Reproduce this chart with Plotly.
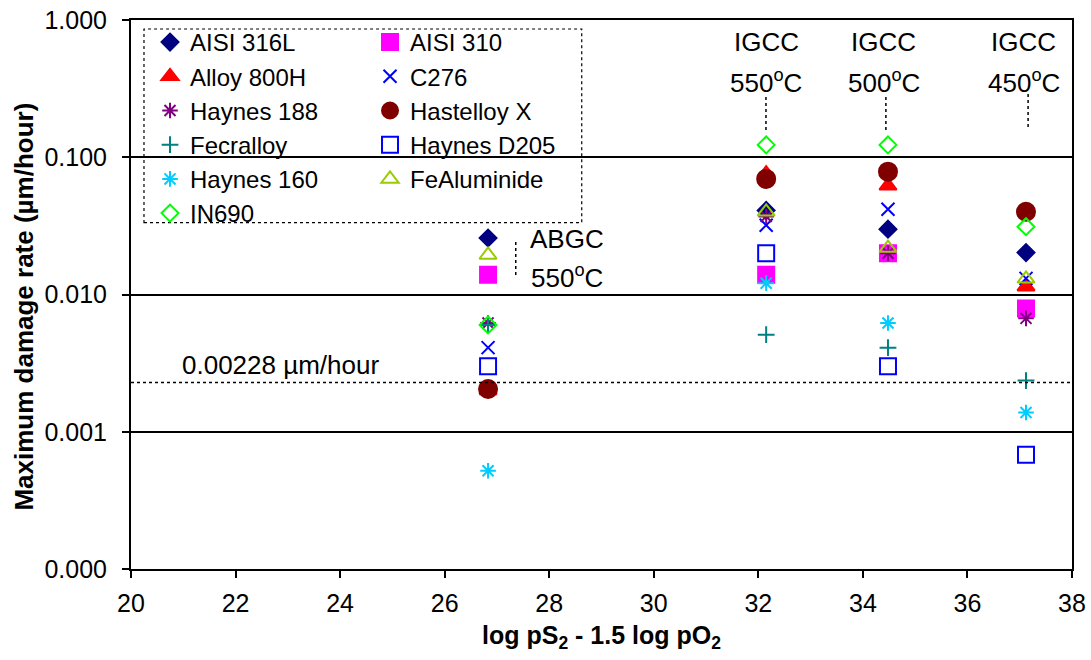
import plotly.graph_objects as go

# ---------------- data ----------------
x_conditions = [26.83, 32.15, 34.48, 37.12]

materials = ["AISI 316L", "AISI 310", "Alloy 800H", "C276", "Haynes 188",
             "Hastelloy X", "Fecralloy", "Haynes D205", "Haynes 160",
             "FeAluminide", "IN690"]

aisi_316l   = [0.0258, 0.0410, 0.0299, 0.0202]
aisi_310    = [0.0139, 0.0139, 0.0200, 0.0079]
alloy_800h  = [0.0020, 0.0760, 0.0620, 0.0114]
c276        = [0.0041, 0.0320, 0.0418, 0.0131]
haynes_188  = [0.0062, 0.0370, 0.0200, 0.0067]
hastelloy_x = [0.00205, 0.0695, 0.0785, 0.0401]
fecralloy   = [0.0060, 0.0051, 0.0041, 0.00236]
haynes_d205 = [0.0030, 0.0200, 0.0030, 0.00068]
haynes_160  = [0.00052, 0.0121, 0.0062, 0.00138]
fealuminide = [0.0194, 0.0400, 0.0218, 0.0130]
in690       = [0.0060, 0.1230, 0.1230, 0.0312]

series_values = [aisi_316l, aisi_310, alloy_800h, c276, haynes_188, hastelloy_x,
                 fecralloy, haynes_d205, haynes_160, fealuminide, in690]

y_tickvals = [0.0001, 0.001, 0.01, 0.1, 1.0]
y_ticktext = ["0.000", "0.001", "0.010", "0.100", "1.000"]
x_tickvals = [20, 22, 24, 26, 28, 30, 32, 34, 36, 38]

limit_value = 0.00228
limit_label = "0.00228 \u00b5m/hour"

# condition labels
igcc_x = [32.146, 34.44, 37.16]
igcc_text_x = [32.15, 34.40, 37.08]
igcc_temps = ["550", "500", "450"]
igcc_line_y = [(0.158, 0.284), (0.158, 0.284), (0.166, 0.294)]
abgc_x = 27.36
abgc_text_x = 28.34
abgc_line_y = (0.01387, 0.0241)

# ---------------- styles ----------------
styles = {
    "AISI 316L":   dict(symbol="diamond", color="#000080", size=13, legend="legend"),
    "AISI 310":    dict(symbol="square", color="#FF00FF", size=16, legend="legend2"),
    "Alloy 800H":  dict(symbol="triangle-up", color="#FF0000", size=15, legend="legend"),
    "C276":        dict(symbol="x-thin-open", color="#0000FF", size=13, legend="legend2"),
    "Haynes 188":  dict(symbol="asterisk-open", color="#800080", size=13, legend="legend"),
    "Hastelloy X": dict(symbol="circle", color="#800000", size=18, legend="legend2"),
    "Fecralloy":   dict(symbol="cross-thin-open", color="#008080", size=12, legend="legend"),
    "Haynes D205": dict(symbol="square-open", color="#0000FF", size=16, legend="legend2"),
    "Haynes 160":  dict(symbol="asterisk-open", color="#00CCFF", size=13, legend="legend"),
    "FeAluminide": dict(symbol="triangle-up-open", color="#99CC00", size=15, legend="legend2"),
    "IN690":       dict(symbol="diamond-open", color="#00FF00", size=13, legend="legend"),
}

FONT = "Arial, Liberation Sans, sans-serif"

fig = go.Figure()
for name, vals in zip(materials, series_values):
    st = styles[name]
    fig.add_trace(go.Scatter(
        x=x_conditions, y=vals, mode="markers", name=name,
        legend=st["legend"],
        marker=dict(symbol=st["symbol"], size=st["size"], color=st["color"],
                    line=dict(color=st["color"], width=2)),
    ))

# horizontal limit line
fig.add_shape(type="line", xref="x", yref="y", x0=20, x1=38,
              y0=limit_value, y1=limit_value,
              line=dict(color="black", width=1.5, dash="dot"))

# dashed vertical markers
for xv, (ya, yb) in zip(igcc_x, igcc_line_y):
    fig.add_shape(type="line", xref="x", yref="y", x0=xv, x1=xv, y0=ya, y1=yb,
                  line=dict(color="black", width=1.5, dash="dot"))
fig.add_shape(type="line", xref="x", yref="y", x0=abgc_x, x1=abgc_x,
              y0=abgc_line_y[0], y1=abgc_line_y[1],
              line=dict(color="black", width=1.5, dash="dot"))

# legend box
fig.add_shape(type="rect", xref="paper", yref="paper",
              x0=0.0138, x1=0.479, y0=0.631, y1=0.9836,
              line=dict(color="black", width=1.2, dash="dot"),
              fillcolor="white", layer="below")

ann_font = dict(family=FONT, size=26, color="black")
anns = []
for xv, t in zip(igcc_text_x, igcc_temps):
    anns.append(dict(x=xv, y=0.960, xref="x", yref="paper", text="IGCC",
                     xanchor="center", yanchor="middle", showarrow=False, font=ann_font))
    anns.append(dict(x=xv, y=0.888, xref="x", yref="paper",
                     text=t + "<sup>o</sup>C", xanchor="center", yanchor="middle",
                     showarrow=False, font=ann_font))
anns.append(dict(x=abgc_text_x, y=0.601, xref="x", yref="paper", text="ABGC",
                 xanchor="center", yanchor="middle", showarrow=False, font=ann_font))
anns.append(dict(x=abgc_text_x, y=0.533, xref="x", yref="paper", text="550<sup>o</sup>C",
                 xanchor="center", yanchor="middle", showarrow=False, font=ann_font))
anns.append(dict(x=20.94, y=0.3716, xref="x", yref="paper", text=limit_label,
                 xanchor="left", yanchor="middle", showarrow=False, font=ann_font))
# axis titles
anns.append(dict(x=-0.1137, y=0.478, xref="paper", yref="paper",
                 text="<b>Maximum damage rate (\u00b5m/hour)</b>", textangle=-90,
                 xanchor="center", yanchor="middle",
                 showarrow=False, font=dict(family=FONT, size=26, color="black")))
anns.append(dict(x=0.5, y=-0.124, xref="paper", yref="paper",
                 text="<b>log pS<sub>2</sub> - 1.5 log pO<sub>2</sub></b>",
                 xanchor="center", yanchor="middle",
                 showarrow=False, font=dict(family=FONT, size=25, color="black")))

fig.update_layout(
    width=1091, height=660,
    margin=dict(l=131, r=19, t=20, b=91, autoexpand=False),
    paper_bgcolor="white", plot_bgcolor="white",
    font=dict(family=FONT, size=24, color="black"),
    annotations=anns,
    legend=dict(x=0.0202, y=1.0, xanchor="left", yanchor="top",
                bgcolor="rgba(0,0,0,0)", font=dict(family=FONT, size=24),
                itemwidth=30, tracegroupgap=0),
    legend2=dict(x=0.254, y=1.0, xanchor="left", yanchor="top",
                 bgcolor="rgba(0,0,0,0)", font=dict(family=FONT, size=24),
                 itemwidth=30, tracegroupgap=0),
)

fig.update_xaxes(range=[20, 38], tickvals=x_tickvals, ticks="outside", ticklen=7,
                 tickwidth=1.5, tickcolor="black", showline=True, linecolor="black",
                 linewidth=2, mirror=True, showgrid=False, zeroline=False,
                 automargin=False, ticklabelstandoff=4,
                 tickfont=dict(family=FONT, size=25))
fig.update_yaxes(type="log", range=[-4, 0], tickvals=y_tickvals, ticktext=y_ticktext,
                 ticks="outside", ticklen=7, tickwidth=1.5, tickcolor="black",
                 showline=True, linecolor="black", linewidth=2, mirror=True,
                 showgrid=True, gridcolor="black", gridwidth=1.5, zeroline=False,
                 automargin=False, ticklabelstandoff=10,
                 tickfont=dict(family=FONT, size=25))

fig.write_html("out.html")
